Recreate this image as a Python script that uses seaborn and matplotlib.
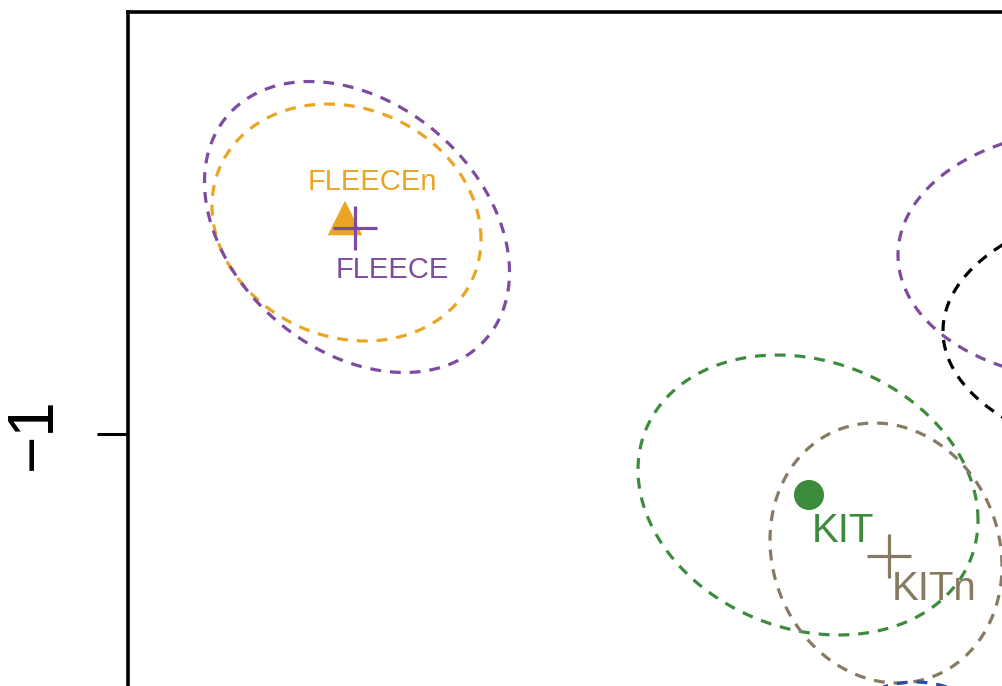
import numpy as np
import matplotlib
matplotlib.use("Agg")
import matplotlib.pyplot as plt
import seaborn as sns

# ---------------- data (data units) ----------------
point_labels = ["FLEECEn", "FLEECE", "KIT", "KITn"]
point_x = [-1.566, -1.546, -0.638, -0.478]
point_y = [-0.568, -0.588, -1.122, -1.244]
point_markers = ["^", "+", "o", "+"]
point_colors = ["#EAA523", "#7D4BA0", "#3D8B3D", "#877A62"]

ellipse_names = ["FLEECEn", "FLEECE", "KIT", "KITn", "grp_purple", "grp_black", "grp_blue"]
ellipse_cx = [-1.563, -1.542, -0.640, -0.484, -0.076, 0.104, -0.426]
ellipse_cy = [-0.577, -0.586, -1.122, -1.238, -0.642, -0.794, -1.732]
ellipse_w = [0.269, 0.305, 0.340, 0.232, 0.384, 0.474, 0.220]
ellipse_h = [0.237, 0.291, 0.280, 0.260, 0.250, 0.260, 0.236]
ellipse_rho = [-0.14, -0.31, -0.18, -0.10, 0.0, 0.0, 0.0]
ellipse_colors = ["#EAA523", "#7D4BA0", "#3D8B3D", "#877A62", "#7D4BA0", "#000000", "#2A4BA8"]

y_ticks = [-1]
y_tick_labels = ["\u22121"]

# ---------------- style ----------------
sns.set_theme(style="white")
plt.rcParams["font.family"] = ["Liberation Sans", "DejaVu Sans"]

W_PX, H_PX = 1002, 686
fig = plt.figure(figsize=(W_PX / 100, H_PX / 100), dpi=100)
fig.patch.set_facecolor("white")

# axes extends beyond the right and bottom edges (zoomed crop)
left_px, top_px = 128, 12
ax_w_frac = 1.5
ax_bottom_frac = -0.5
ax_h_frac = (H_PX - top_px) / H_PX - ax_bottom_frac
ax = fig.add_axes([left_px / W_PX, ax_bottom_frac, ax_w_frac, ax_h_frac])

PX_PER_UNIT = 500.0
x0 = -2.0
ax_w_px = ax_w_frac * W_PX
ax_h_px = ax_h_frac * H_PX
y_top = -1 + (434 - top_px) / PX_PER_UNIT

# ---------------- ellipses ----------------
t = np.linspace(0, 2 * np.pi, 400)
circ = np.vstack([np.cos(t), np.sin(t)])
for cx, cy, w, h, r, col in zip(ellipse_cx, ellipse_cy, ellipse_w, ellipse_h,
                                ellipse_rho, ellipse_colors):
    M = np.array([[w * w, r * w * h], [r * w * h, h * h]])
    L = np.linalg.cholesky(M)
    pts = L @ circ
    ax.plot(cx + pts[0], cy + pts[1], color=col, lw=2.3, dashes=(3.4, 2.8),
            solid_capstyle="butt", dash_capstyle="butt", zorder=2)

# ---------------- points ----------------
marker_sizes = {"^": 620, "o": 470, "+": 1024}
for x, y, m, c in zip(point_x, point_y, point_markers, point_colors):
    if m == "+":
        sns.scatterplot(x=[x], y=[y], marker=m, s=marker_sizes[m], color=c,
                        linewidth=2.3, ax=ax, zorder=4, legend=False)
    else:
        sns.scatterplot(x=[x], y=[y], marker=m, s=marker_sizes[m], color=c,
                        edgecolor="none", linewidth=0, ax=ax, zorder=3, legend=False)

# ---------------- labels ----------------
label_offsets = [(-26.6, 20.2), (-13.7, -36.0), (2.2, -33.8), (2.2, -31.7)]
label_sizes = [21, 21, 29, 29]
for lab, x, y, c, off, fs in zip(point_labels, point_x, point_y, point_colors,
                                 label_offsets, label_sizes):
    ax.annotate(lab, (x, y), xytext=off, textcoords="offset points",
                ha="left", va="baseline", color=c, fontsize=fs, zorder=5)

# ---------------- axes styling ----------------
ax.autoscale(False)
for sp in ax.spines.values():
    sp.set_linewidth(2.6)
    sp.set_color("black")
ax.set_xticks([])
ax.set_yticks(y_ticks)
ax.set_yticklabels(y_tick_labels)
ax.set_xlim(x0, x0 + ax_w_px / PX_PER_UNIT)
ax.set_ylim(y_top - ax_h_px / PX_PER_UNIT, y_top)
ax.tick_params(axis="y", which="major", left=True, length=22, width=2.2,
               color="black", labelcolor="black", labelsize=46, pad=24,
               labelrotation=90)
for lab in ax.get_yticklabels():
    lab.set_va("center")
ax.grid(False)
ax.set_facecolor("white")

fig.savefig("out.png", dpi=100)
